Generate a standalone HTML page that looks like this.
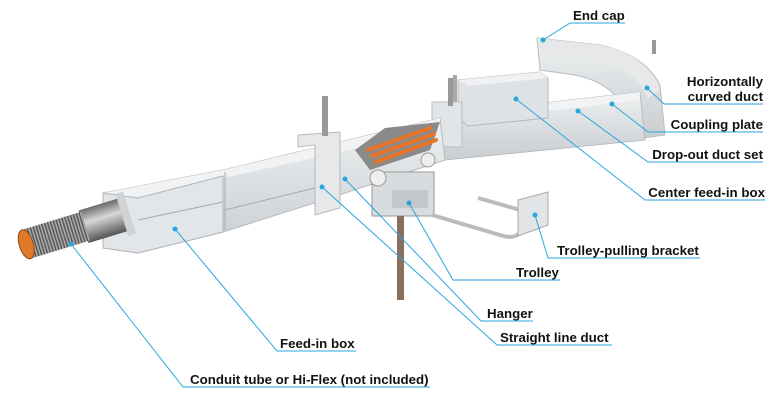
<!DOCTYPE html>
<html><head><meta charset="utf-8"><style>
html,body{margin:0;padding:0;background:#fff;}
svg{display:block}
text{font-family:"Liberation Sans",Arial,sans-serif;font-weight:bold;font-size:13.3px;fill:#111;}
</style></head><body>
<svg width="770" height="400" viewBox="0 0 770 400" xmlns="http://www.w3.org/2000/svg">
<defs>
<linearGradient id="met" x1="0" y1="0" x2="0" y2="1"><stop offset="0" stop-color="#eef0f1"/><stop offset="1" stop-color="#c9cdd0"/></linearGradient>
<linearGradient id="tube" x1="0" y1="0" x2="0" y2="1"><stop offset="0" stop-color="#6a6a6a"/><stop offset=".4" stop-color="#d8d8d8"/><stop offset="1" stop-color="#555"/></linearGradient>
<pattern id="coil" width="3" height="10" patternUnits="userSpaceOnUse"><rect width="3" height="10" fill="#aaa"/><rect width="1.4" height="10" fill="#555"/></pattern>
</defs>
<path d="M537 38 L600 45 Q645 55 660 85 L665 135 L630 140 L625 108 Q610 82 575 75 L540 70 Z" fill="url(#met)" stroke="#b8bcc0" stroke-width="1"/>
<path d="M537 38 L600 45 Q648 55 660 90 L648 98 Q632 64 590 58 L540 50 Z" fill="#e6e8ea"/>
<rect x="652" y="40" width="4" height="14" fill="#999"/>
<polygon points="440,115 640,92 645,140 445,160" fill="url(#met)" stroke="#b8bcc0"/>
<polygon points="440,115 640,92 640,100 440,124" fill="#f2f3f4"/>
<polygon points="458,80 540,72 548,78 548,118 468,126 458,118" fill="#dfe2e4" stroke="#b5b9bd"/>
<polygon points="458,80 540,72 548,78 468,86" fill="#f0f1f2"/>
<rect x="453" y="75" width="4" height="40" fill="#aaa"/>
<rect x="432" y="102" width="30" height="45" fill="#e2e5e7" stroke="#bbb"/>
<rect x="448" y="78" width="5" height="28" fill="#999"/>
<polygon points="103,193 223,170 440,118 445,160 330,198 223,232 138,253 103,248" fill="url(#met)" stroke="#b8bcc0"/>
<polygon points="103,193 223,170 440,118 440,130 223,178 138,200" fill="#f1f2f3"/>
<polygon points="103,193 138,198 223,176 223,232 138,253 103,248" fill="#e3e6e8" stroke="#b0b4b8"/>
<line x1="138" y1="220" x2="223" y2="202" stroke="#a9a9a9"/>
<line x1="225" y1="210" x2="315" y2="188" stroke="#a9a9a9"/>
<line x1="225" y1="172" x2="225" y2="230" stroke="#aaa"/>
<polygon points="298,135 340,132 340,208 315,215 315,145 298,147" fill="#e6e8ea" stroke="#b5b9bd"/>
<rect x="322" y="96" width="6" height="40" fill="#999"/>
<polygon points="355,150 385,128 440,122 430,150 370,170" fill="#8a8a8a"/>
<g stroke="#e8742a" stroke-width="4" stroke-linecap="round">
<line x1="368" y1="150" x2="430" y2="128"/><line x1="372" y1="156" x2="434" y2="134"/><line x1="376" y1="162" x2="436" y2="140"/></g>
<rect x="372" y="172" width="62" height="44" fill="#d9dcde" stroke="#999"/>
<rect x="392" y="190" width="36" height="18" fill="#c4c8cc"/>
<circle cx="378" cy="178" r="8" fill="#eee" stroke="#999"/>
<circle cx="428" cy="160" r="7" fill="#eee" stroke="#999"/>
<rect x="397" y="216" width="7" height="84" fill="#8a6f5c"/>
<path d="M478 198 L520 210 L520 228 M432 215 L500 235 Q515 240 520 232" fill="none" stroke="#bbb" stroke-width="4"/>
<polygon points="518,200 548,192 548,225 518,236" fill="#e2e5e7" stroke="#aaa"/>
<g transform="rotate(-17 60 235)">
<rect x="85" y="217" width="45" height="34" fill="url(#tube)"/>
<rect x="25" y="219" width="62" height="30" fill="url(#coil)"/>
<ellipse cx="25" cy="234" rx="7" ry="15" fill="#e07a2a" stroke="#8a4a1a"/>
<rect x="125" y="212" width="8" height="44" fill="#d0d3d6"/>
</g>
<g stroke="#2aa6df" stroke-width="1" fill="none">
<polyline points="543,40 570,23 625,23"/>
<polyline points="647,88 664,104 763,104"/>
<polyline points="612,104 648,132 763,132"/>
<polyline points="578,111 648,162 763,162"/>
<polyline points="516,99 645,200 765,200"/>
<polyline points="535,215 548,258 700,258"/>
<polyline points="409,203 453,280 560,280"/>
<polyline points="345,179 481,321 533,321"/>
<polyline points="322,187 497,345 612,345"/>
<polyline points="175,229 277,351 356,351"/>
<polyline points="71,244 183,387 430,387"/>
</g>
<g fill="#2aa6df">
<circle cx="543" cy="40" r="2.5"/><circle cx="647" cy="88" r="2.5"/><circle cx="612" cy="104" r="2.5"/><circle cx="578" cy="111" r="2.5"/><circle cx="516" cy="99" r="2.5"/><circle cx="535" cy="215" r="2.5"/><circle cx="409" cy="203" r="2.5"/><circle cx="345" cy="179" r="2.5"/><circle cx="322" cy="187" r="2.5"/><circle cx="175" cy="229" r="2.5"/><circle cx="71" cy="244" r="2.5"/>
</g>
<text x="573" y="20">End cap</text>
<text x="763" y="86" text-anchor="end">Horizontally</text>
<text x="763" y="101" text-anchor="end">curved duct</text>
<text x="763" y="129" text-anchor="end">Coupling plate</text>
<text x="763" y="159" text-anchor="end">Drop-out duct set</text>
<text x="765" y="197" text-anchor="end">Center feed-in box</text>
<text x="557" y="255">Trolley-pulling bracket</text>
<text x="516" y="277">Trolley</text>
<text x="487" y="318">Hanger</text>
<text x="500" y="342">Straight line duct</text>
<text x="280" y="348">Feed-in box</text>
<text x="190" y="384">Conduit tube or Hi-Flex (not included)</text>
</svg>
</body></html>
